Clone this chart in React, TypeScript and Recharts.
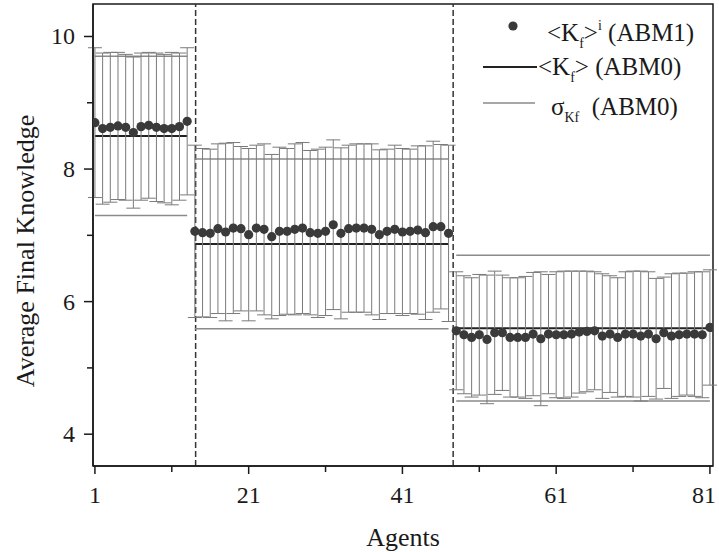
import {
  ComposedChart,
  ErrorBar,
  Line,
  ReferenceArea,
  ReferenceLine,
  Scatter,
  XAxis,
  YAxis,
} from 'recharts';

// ABM1: per-agent average final knowledge and its std dev
const abm1Mean = [
  8.70, 8.61, 8.63, 8.65, 8.63, 8.55, 8.64, 8.66, 8.63, 8.61, 8.61, 8.64, 8.72,
  7.06, 7.04, 7.03, 7.10, 7.05, 7.11, 7.10, 7.01, 7.11, 7.09, 6.98, 7.06, 7.06, 7.09, 7.11, 7.04, 7.03,
  7.06, 7.16, 7.03, 7.10, 7.11, 7.11, 7.09, 7.01, 7.06, 7.09, 7.05, 7.06, 7.08, 7.04, 7.13, 7.13, 7.03,
  5.56, 5.50, 5.46, 5.50, 5.43, 5.53, 5.53, 5.46, 5.46, 5.46, 5.51, 5.44, 5.51, 5.50, 5.50, 5.51, 5.54,
  5.55, 5.56, 5.48, 5.51, 5.46, 5.51, 5.51, 5.48, 5.51, 5.44, 5.53, 5.48, 5.50, 5.51, 5.51, 5.50, 5.61,
];
const abm1Sd = [
  1.13, 1.14, 1.13, 1.11, 1.10, 1.14, 1.11, 1.10, 1.12, 1.12, 1.15, 1.11, 1.11,
  1.30, 1.27, 1.27, 1.28, 1.34, 1.29, 1.24, 1.30, 1.25, 1.29, 1.24, 1.27, 1.25, 1.29, 1.29, 1.24, 1.27,
  1.27, 1.28, 1.29, 1.26, 1.27, 1.27, 1.29, 1.28, 1.24, 1.27, 1.26, 1.24, 1.27, 1.31, 1.29, 1.24, 1.33,
  0.89, 0.89, 0.90, 0.91, 0.97, 0.93, 0.87, 0.90, 0.90, 0.92, 0.93, 1.01, 0.90, 0.95, 0.96, 0.95, 0.92,
  0.91, 0.89, 0.94, 0.88, 0.90, 0.94, 0.95, 0.98, 0.94, 0.91, 0.84, 0.94, 0.93, 0.92, 0.94, 0.95, 0.87,
];

// ABM0: one mean / sigma per group of agents
const groupStart = [1, 14, 48];
const groupEnd = [13, 47, 81];
const abm0Mean = [8.5, 6.87, 5.6];
const abm0Sd = [1.2, 1.28, 1.1];
const dividers = [14.1, 47.6];

const xTicks = [1, 11, 21, 31, 41, 51, 61, 71, 81];
const xLabels = [1, 21, 41, 61, 81];
const yTicks = [4, 5, 6, 7, 8, 9, 10];
const yLabels = [4, 6, 8, 10];

const X_DOMAIN = [0.75, 81.4];
const Y_DOMAIN = [3.52, 10.49];

const FONT = '"Liberation Serif", "Times New Roman", serif';
const INK = '#1a1a1a';

const data = abm1Mean.map((m, i) => {
  const agent = i + 1;
  const row: Record<string, number | null> = { agent, mean: m, sd: abm1Sd[i] };
  groupStart.forEach((s, g) => {
    const inside = agent >= s && agent <= groupEnd[g];
    row[`m0_${g}`] = inside ? abm0Mean[g] : null;
    row[`up0_${g}`] = inside ? abm0Mean[g] + abm0Sd[g] : null;
    row[`lo0_${g}`] = inside ? abm0Mean[g] - abm0Sd[g] : null;
  });
  return row;
});

const XTick = (props: any) => {
  const { x, y, payload } = props;
  const major = xLabels.includes(payload.value);
  return (
    <g>
      <line x1={x} x2={x} y1={y} y2={y + (major ? 8 : 6)} stroke={INK} strokeWidth={1.5} />
      {major && (
        <text x={Math.min(x, 704)} y={y + 37} textAnchor="middle" fontSize={24} fontFamily={FONT} fill={INK}>
          {payload.value}
        </text>
      )}
    </g>
  );
};

const YTick = (props: any) => {
  const { x, y, payload } = props;
  const major = yLabels.includes(payload.value);
  return (
    <g>
      <line x1={x} x2={x - (major ? 9 : 6)} y1={y} y2={y} stroke={INK} strokeWidth={1.5} />
      {major && (
        <text x={x - 18} y={y + 8} textAnchor="end" fontSize={24} fontFamily={FONT} fill={INK}>
          {payload.value}
        </text>
      )}
    </g>
  );
};

const YLabel = (props: any) => {
  const vb = props.viewBox;
  const cx = 25;
  const cy = vb.y + vb.height / 2 + 16;
  return (
    <text
      x={cx}
      y={cy}
      transform={`rotate(-90, ${cx}, ${cy})`}
      textAnchor="middle"
      dominantBaseline="central"
      fontSize={26}
      fontFamily={FONT}
      fill={INK}
    >
      Average Final Knowledge
    </text>
  );
};

const XLabel = (props: any) => {
  const vb = props.viewBox;
  return (
    <text
      x={vb.x + vb.width / 2}
      y={vb.y + 80}
      textAnchor="middle"
      fontSize={26}
      fontFamily={FONT}
      fill={INK}
    >
      Agents
    </text>
  );
};

const Dot = (p: any) => <circle cx={p.cx} cy={p.cy} r={4.6} fill="#3a3a3a" />;

const legendText: React.CSSProperties = {
  position: 'absolute',
  fontFamily: FONT,
  fontSize: 25,
  color: INK,
  whiteSpace: 'nowrap',
  lineHeight: '28px',
};
const sub: React.CSSProperties = { fontSize: 14, verticalAlign: -7 };
const sup: React.CSSProperties = { fontSize: 14, verticalAlign: 11 };

const App = () => {
  return (
    <div style={{ position: 'absolute', left: 0, top: 0, width: 719, height: 552, background: '#fff' }}>
      <ComposedChart width={719} height={552} data={data} margin={{ top: 4, right: 6, bottom: 0, left: 0 }}>
        <XAxis
          dataKey="agent"
          type="number"
          domain={X_DOMAIN}
          ticks={xTicks}
          allowDataOverflow
          height={86}
          tickSize={0}
          tickMargin={0}
          tickLine={false}
          tick={XTick}
          axisLine={{ stroke: INK, strokeWidth: 1.5 }}
          label={XLabel}
        />
        <YAxis
          type="number"
          domain={Y_DOMAIN}
          ticks={yTicks}
          allowDataOverflow
          width={93}
          tickSize={0}
          tickMargin={0}
          tickLine={false}
          tick={YTick}
          axisLine={{ stroke: INK, strokeWidth: 1.5 }}
          label={YLabel}
        />
        <ReferenceArea
          x1={X_DOMAIN[0]}
          x2={X_DOMAIN[1]}
          y1={Y_DOMAIN[0]}
          y2={Y_DOMAIN[1]}
          fill="none"
          stroke={INK}
          strokeWidth={1.5}
          ifOverflow="visible"
        />
        {dividers.map((d) => (
          <ReferenceLine key={d} x={d} stroke="#333" strokeWidth={1.5} strokeDasharray="6 3" />
        ))}
        {groupStart.map((_, g) => [
          <Line key={`up${g}`} dataKey={`up0_${g}`} stroke="#8a8a8a" strokeWidth={1.5} dot={false} isAnimationActive={false} connectNulls={false} />,
          <Line key={`lo${g}`} dataKey={`lo0_${g}`} stroke="#8a8a8a" strokeWidth={1.5} dot={false} isAnimationActive={false} connectNulls={false} />,
          <Line key={`m${g}`} dataKey={`m0_${g}`} stroke="#222" strokeWidth={2} dot={false} isAnimationActive={false} connectNulls={false} />,
        ])}
        <Scatter dataKey="mean" shape={Dot} isAnimationActive={false}>
          <ErrorBar dataKey="sd" direction="y" width={7} stroke="#7a7a7a" strokeWidth={1} />
        </Scatter>
      </ComposedChart>

      {/* legend */}
      <svg style={{ position: 'absolute', left: 0, top: 0 }} width={719} height={552} pointerEvents="none">
        <circle cx={513} cy={26} r={4.6} fill="#3a3a3a" />
        <line x1={483} x2={537} y1={67} y2={67} stroke="#222" strokeWidth={2} />
        <line x1={483} x2={535} y1={103} y2={103} stroke="#8a8a8a" strokeWidth={1.5} />
      </svg>
      <div style={{ ...legendText, left: 547, top: 12 }}>
        &lt;K<span style={sub}>f</span>&gt;<span style={sup}>i</span> (ABM1)
      </div>
      <div style={{ ...legendText, left: 538, top: 53 }}>
        &lt;K<span style={sub}>f</span>&gt; (ABM0)
      </div>
      <div style={{ ...legendText, left: 551, top: 93 }}>
        σ<span style={sub}>Kf</span>&nbsp; (ABM0)
      </div>
    </div>
  );
};

export default App;
